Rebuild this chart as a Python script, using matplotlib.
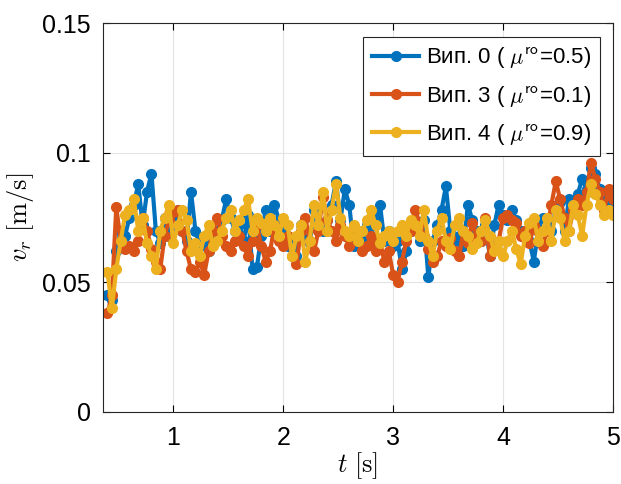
import numpy as np
import matplotlib
matplotlib.use('Agg')
import matplotlib.pyplot as plt

plt.rcParams['font.family'] = ['Liberation Sans', 'DejaVu Sans']
plt.rcParams['mathtext.fontset'] = 'cm'

# time samples (s)
t = np.round(np.arange(0.40, 5.0001, 0.04), 2)

# Вип. 0, mu_ro = 0.5
v_case0 = [
    0.045, 0.043, 0.062, 0.070, 0.068, 0.075, 0.080, 0.088, 0.072, 0.085,
    0.092, 0.070, 0.065, 0.075, 0.068, 0.072, 0.078, 0.070, 0.066, 0.085,
    0.070, 0.064, 0.066, 0.062, 0.068, 0.070, 0.074, 0.082, 0.075, 0.070,
    0.072, 0.066, 0.076, 0.055, 0.056, 0.068, 0.078, 0.070, 0.080, 0.074,
    0.070, 0.064, 0.066, 0.060, 0.072, 0.068, 0.065, 0.078, 0.072, 0.070,
    0.074, 0.080, 0.089, 0.074, 0.086, 0.080, 0.064, 0.070, 0.066, 0.072,
    0.068, 0.075, 0.080, 0.066, 0.070, 0.064, 0.066, 0.055, 0.062, 0.070,
    0.072, 0.066, 0.074, 0.052, 0.066, 0.072, 0.078, 0.087, 0.070, 0.066,
    0.068, 0.064, 0.080, 0.074, 0.070, 0.066, 0.072, 0.060, 0.072, 0.080,
    0.076, 0.074, 0.078, 0.074, 0.070, 0.068, 0.066, 0.058, 0.070, 0.075,
    0.074, 0.070, 0.078, 0.081, 0.070, 0.082, 0.078, 0.084, 0.090, 0.086,
    0.094, 0.092, 0.086, 0.082, 0.080, 0.078,
]

# Вип. 3, mu_ro = 0.1
v_case3 = [
    0.038, 0.045, 0.079, 0.066, 0.063, 0.064, 0.062, 0.066, 0.075, 0.070,
    0.063, 0.058, 0.055, 0.068, 0.074, 0.077, 0.078, 0.070, 0.062, 0.055,
    0.054, 0.058, 0.053, 0.062, 0.070, 0.075, 0.068, 0.064, 0.062, 0.066,
    0.068, 0.064, 0.060, 0.066, 0.072, 0.064, 0.058, 0.062, 0.072, 0.066,
    0.064, 0.068, 0.060, 0.057, 0.070, 0.075, 0.066, 0.062, 0.070, 0.083,
    0.074, 0.070, 0.066, 0.072, 0.068, 0.064, 0.070, 0.066, 0.062, 0.064,
    0.068, 0.062, 0.066, 0.058, 0.062, 0.053, 0.050, 0.058, 0.066, 0.070,
    0.078, 0.073, 0.068, 0.063, 0.058, 0.060, 0.066, 0.064, 0.067, 0.062,
    0.060, 0.070, 0.065, 0.073, 0.068, 0.066, 0.075, 0.060, 0.063, 0.066,
    0.075, 0.076, 0.074, 0.073, 0.068, 0.070, 0.065, 0.072, 0.070, 0.064,
    0.070, 0.080, 0.089, 0.082, 0.075, 0.070, 0.078, 0.082, 0.080, 0.085,
    0.096, 0.090, 0.085, 0.078, 0.086, 0.082,
]

# Вип. 4, mu_ro = 0.9
v_case4 = [
    0.054, 0.040, 0.055, 0.066, 0.076, 0.078, 0.082, 0.070, 0.075, 0.065,
    0.060, 0.055, 0.070, 0.075, 0.080, 0.065, 0.072, 0.078, 0.074, 0.062,
    0.065, 0.060, 0.068, 0.072, 0.064, 0.066, 0.070, 0.075, 0.078, 0.070,
    0.074, 0.078, 0.082, 0.070, 0.075, 0.073, 0.070, 0.075, 0.072, 0.068,
    0.075, 0.072, 0.060, 0.068, 0.072, 0.058, 0.066, 0.080, 0.072, 0.085,
    0.070, 0.078, 0.088, 0.075, 0.070, 0.068, 0.072, 0.066, 0.070, 0.074,
    0.078, 0.072, 0.065, 0.068, 0.070, 0.066, 0.070, 0.072, 0.068, 0.074,
    0.072, 0.068, 0.078, 0.066, 0.060, 0.070, 0.075, 0.066, 0.063, 0.072,
    0.075, 0.070, 0.068, 0.063, 0.065, 0.070, 0.074, 0.068, 0.062, 0.066,
    0.060, 0.066, 0.070, 0.063, 0.057, 0.068, 0.073, 0.075, 0.066, 0.070,
    0.075, 0.066, 0.078, 0.075, 0.066, 0.070, 0.080, 0.076, 0.068, 0.080,
    0.088, 0.084, 0.080, 0.076, 0.078, 0.076,
]

labels = [r'Вип. 0 ( $\mu^{\mathsf{ro}}$=0.5)',
          r'Вип. 3 ( $\mu^{\mathsf{ro}}$=0.1)',
          r'Вип. 4 ( $\mu^{\mathsf{ro}}$=0.9)']
colors = ['#0072BD', '#D95319', '#EDB120']

fig = plt.figure(figsize=(6.21, 4.84), dpi=100)
ax = fig.add_axes([0.166, 0.149, 0.821, 0.803])

for v, lab, c in zip([v_case0, v_case3, v_case4], labels, colors):
    ax.plot(t, v, '-o', color=c, lw=3, ms=7, label=lab)

ax.set_xlim(0.36, 5)
ax.set_ylim(0, 0.15)
ax.set_xticks([1, 2, 3, 4, 5])
ax.set_yticks([0, 0.05, 0.1, 0.15])
ax.set_yticklabels(['0', '0.05', '0.1', '0.15'])
ax.grid(True, color='#e3e3e3', lw=0.8)
ax.set_axisbelow(True)
ax.tick_params(direction='in', top=True, right=True, labelsize=18, length=5)
ax.tick_params(axis='x', pad=10)
ax.tick_params(axis='y', pad=9)
for s in ax.spines.values():
    s.set_color('#262626')

ax.set_xlabel(r'$t\ [\mathrm{s}]$', fontsize=19, labelpad=0)
ax.set_ylabel(r'$v_r\ [\mathrm{m/s}]$', fontsize=19, labelpad=4)

leg = ax.legend(loc='upper right', fontsize=16, fancybox=False, framealpha=1,
                edgecolor='#262626', handlelength=2.1, borderpad=0.4,
                labelspacing=0.6, handletextpad=0.3, borderaxespad=0.6)
leg.get_frame().set_linewidth(0.8)

fig.savefig('out.png', dpi=100)
